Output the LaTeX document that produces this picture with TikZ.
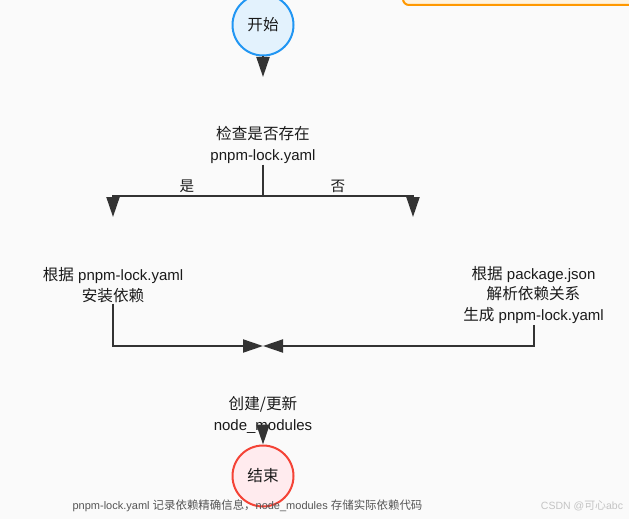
\documentclass[tikz,border=0pt]{standalone}
\usepackage{fontspec}
\setmainfont{Liberation Sans}
\newfontfamily\cjk[Scale=1.04]{Noto Sans CJK SC}
\usetikzlibrary{arrows.meta}
\definecolor{bgc}{HTML}{FAFAFA}
\definecolor{linec}{HTML}{333333}
\definecolor{txtc}{HTML}{1A1A1A}
\definecolor{startfill}{HTML}{E3F2FD}
\definecolor{startdraw}{HTML}{2196F3}
\definecolor{endfill}{HTML}{FFEBEE}
\definecolor{enddraw}{HTML}{F44336}
\definecolor{notefill}{HTML}{FFF3E0}
\definecolor{notedraw}{HTML}{FF9800}
\definecolor{foot}{HTML}{555555}
\definecolor{wm}{HTML}{C4C4C4}
\tikzset{
  conn/.style={draw=linec, line width=2pt},
  arr/.style={conn, -{Triangle[length=20pt,width=13pt]}},
  term/.style={circle, minimum size=61pt, inner sep=0pt, line width=2pt, text=txtc,
    font=\fontsize{15}{18}\selectfont},
  txt/.style={align=center, text=txtc, inner sep=1pt, font=\fontsize{15}{20.5}\selectfont},
  lbl/.style={text=txtc, inner sep=1pt, font=\fontsize{14}{16}\selectfont},
}
\begin{document}
\begin{tikzpicture}[x=1pt,y=-1pt]
\useasboundingbox (0,0) rectangle (629,519);
\clip (0,0) rectangle (629,519);
\fill[bgc] (0,0) rectangle (629,519);
% partial note box at top right
\draw[draw=notedraw, fill=notefill, line width=2pt, rounded corners=6pt] (403,-30) rectangle (680,5);

\node[term, fill=startfill, draw=startdraw] (start) at (263,25) {\cjk 开始};
\coordinate (c1) at (263,77);
\node[txt] (check) at (263,145) {{\cjk 检查是否存在}\\pnpm-lock.yaml};
\coordinate (fork) at (263,196);
\coordinate (yesend) at (113,217);
\coordinate (noend) at (413,217);
\node[lbl] (yeslbl) at (187,186) {\cjk 是};
\node[lbl] (nolbl) at (338,186) {\cjk 否};
\node[txt] (yes) at (113,285) {{\cjk 根据} pnpm-lock.yaml\\{\cjk 安装依赖}};
\node[txt] (no) at (533.5,295) {{\cjk 根据} package.json\\{\cjk 解析依赖关系}\\{\cjk 生成} pnpm-lock.yaml};
\coordinate (merge) at (263,346);
\node[txt] (create) at (263,415) {{\cjk 创建/更新}\\node\_modules};
\coordinate (c2) at (263,428);
\node[term, fill=endfill, draw=enddraw] (end) at (263,476) {\cjk 结束};

\draw[arr] (start.south) -- (c1);
\draw[conn] (check.south) -- (fork);
\draw[arr] (fork) -| (yesend);
\draw[arr] (fork) -| (noend);
\draw[arr] (yes.south) |- (merge);
\draw[arr] (no.south) |- (merge);
\draw[arr] (c2) -- (end.north);

\node[text=foot, inner sep=0pt, font=\fontsize{11}{13}\selectfont] (note) at (247.5,506)
  {pnpm-lock.yaml {\cjk 记录依赖精确信息，}node\_modules {\cjk 存储实际依赖代码}};
\node[text=wm, inner sep=0pt, font=\fontsize{10.5}{12}\selectfont] (mark) at (582,506)
  {CSDN @{\cjk 可心}abc};
\end{tikzpicture}
\end{document}
